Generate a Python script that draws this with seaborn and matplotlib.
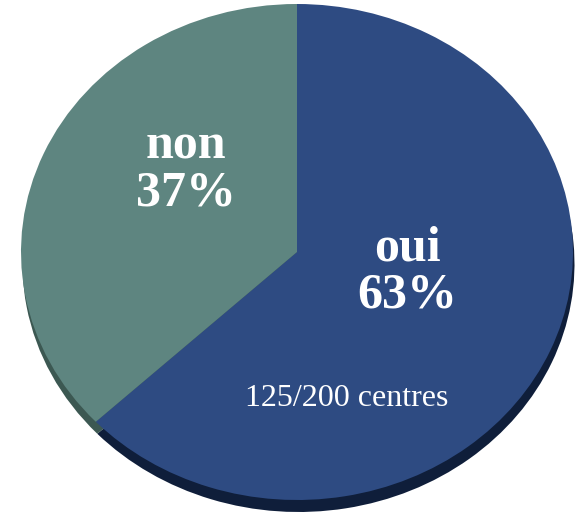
import matplotlib
matplotlib.use("Agg")
import matplotlib.pyplot as plt
import seaborn as sns

# Survey answers
categories = ["oui", "non"]
shares = [63, 37]
detail_label = "125/200 centres"

sns.set_theme(style="white")
plt.rcParams["font.family"] = ["Liberation Serif", "DejaVu Serif"]

face_colors = sns.color_palette(["#2E4B82", "#5E8580"])
side_colors = sns.color_palette(["#0F1E3A", "#3C5852"])

W, H = 578, 517
fig = plt.figure(figsize=(W / 100, H / 100), dpi=100)
ax = fig.add_axes([0, 0, 1, 1])

# Ellipse geometry in pixels (centre and semi-axes)
cx, cy, rx, ry = 297, 252, 276, 248
depth = 12

# Side of the disc: same pie shifted down, darker
ax.pie(shares, colors=side_colors, startangle=90, counterclock=False,
       radius=1, center=(1.5 / rx, -depth / ry),
       wedgeprops=dict(linewidth=0))
# Top face
ax.pie(shares, colors=face_colors, startangle=90, counterclock=False,
       radius=1, center=(0, 0),
       wedgeprops=dict(linewidth=0))

ax.set_aspect("auto")
ax.set_xlim(-cx / rx, (W - cx) / rx)
ax.set_ylim(-(H - cy) / ry, cy / ry)
ax.axis("off")


def px(x, y):
    return x / W, 1 - y / H


label_pos = {"oui": (407, 272), "non": (186, 170)}
for name, val in zip(categories, shares):
    x, y = label_pos[name]
    fig.text(*px(x, y), f"{name}\n{val}%", color="white", fontsize=36,
             fontweight="bold", ha="center", va="center", linespacing=1.02)

fig.text(*px(347, 398), detail_label, color="white", fontsize=23,
         ha="center", va="center")

fig.savefig("out.png", dpi=100, facecolor="white")
